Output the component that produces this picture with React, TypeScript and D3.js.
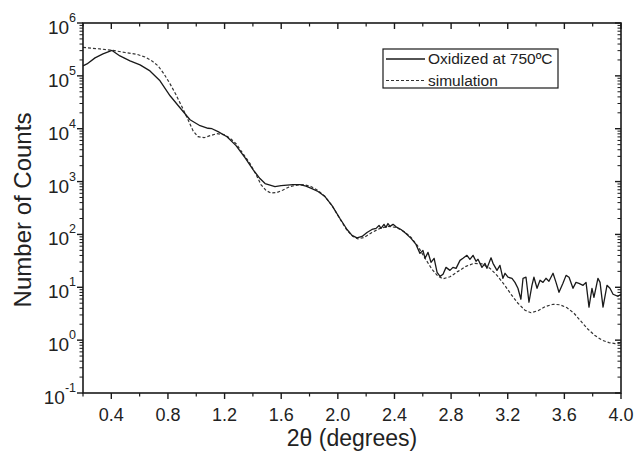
import React from "react";
import * as d3 from "d3";

// Measured XRR curve (Oxidized at 750ºC)
const measuredTheta = [
  0.2, 0.228, 0.285, 0.341, 0.405, 0.461, 0.532, 0.603, 0.673, 0.744,
  0.815, 0.885, 0.956, 1.027, 1.083, 1.111, 1.154, 1.217, 1.281, 1.344,
  1.401, 1.45, 1.486, 1.521, 1.556, 1.599, 1.641, 1.683, 1.733, 1.775,
  1.817, 1.86, 1.909, 1.959, 2.015, 2.065, 2.1, 2.135, 2.171, 2.206,
  2.241, 2.27, 2.291, 2.305, 2.326, 2.34, 2.354, 2.368, 2.39, 2.411,
  2.446, 2.481, 2.517, 2.552, 2.58, 2.601, 2.616, 2.637, 2.658, 2.68,
  2.701, 2.722, 2.743, 2.764, 2.792, 2.813, 2.835, 2.863, 2.884, 2.912,
  2.933, 2.955, 2.976, 2.99, 3.018, 3.039, 3.053, 3.082, 3.096, 3.124,
  3.145, 3.166, 3.181, 3.202, 3.23, 3.251, 3.272, 3.293, 3.308, 3.329,
  3.35, 3.371, 3.385, 3.407, 3.428, 3.449, 3.47, 3.491, 3.52, 3.541,
  3.562, 3.59, 3.612, 3.633, 3.661, 3.682, 3.703, 3.732, 3.753, 3.774,
  3.795, 3.809, 3.837, 3.852, 3.873, 3.901, 3.922, 3.944, 3.979, 4.0,
];
const measuredCounts = [
  1.55e5, 1.68e5, 2.19e5, 2.6e5, 3.03e5, 2.38e5, 1.92e5, 1.61e5, 1.24e5, 8.05e4,
  4.2e4, 2.49e4, 1.48e4, 1.14e4, 1.02e4, 1.0e4, 8.8e3, 7.06e3, 4.78e3, 2.84e3,
  1.68e3, 1.14e3, 916, 859, 806, 841, 859, 877, 877, 822,
  738, 648, 521, 352, 200, 124, 95.7, 85.9, 91.6, 109,
  124, 130, 148, 130, 155, 136, 161, 142, 155, 139,
  124, 104, 84.1, 64.8, 43.8, 49.9, 35.3, 45.8, 29.6, 35.3,
  19.2, 16.1, 17.6, 23.8, 20.9, 23.8, 22.8, 32.3, 35.3, 40.2,
  33.8, 40.2, 31.0, 33.8, 23.8, 28.4, 22.8, 36.1, 28.4, 20.9,
  26.0, 14.8, 18.4, 15.5, 14.8, 12.4, 9.57, 5.94, 14.8, 15.5,
  5.21, 10.9, 15.5, 9.57, 13.6, 12.4, 14.8, 13.0, 18.4, 12.4,
  8.05, 11.9, 16.8, 15.5, 9.57, 12.4, 11.9, 10.9, 12.4, 4.2,
  9.57, 6.47, 14.8, 12.4, 4.2, 10.9, 9.57, 7.38, 6.76, 7.38,
];

// Simulated curve
const simTheta = [
  0.2, 0.32, 0.412, 0.497, 0.581, 0.638, 0.687, 0.73, 0.772, 0.815,
  0.857, 0.899, 0.942, 0.977, 1.012, 1.055, 1.097, 1.146, 1.196, 1.238,
  1.281, 1.33, 1.38, 1.422, 1.457, 1.493, 1.528, 1.57, 1.613, 1.662,
  1.712, 1.761, 1.81, 1.86, 1.909, 1.959, 2.015, 2.065, 2.107, 2.142,
  2.185, 2.241, 2.298, 2.354, 2.411, 2.467, 2.517, 2.566, 2.616, 2.665,
  2.708, 2.743, 2.792, 2.849, 2.905, 2.962, 3.018, 3.075, 3.124, 3.174,
  3.223, 3.272, 3.322, 3.364, 3.414, 3.463, 3.52, 3.569, 3.619, 3.668,
  3.717, 3.767, 3.816, 3.866, 3.915, 3.958, 4.0,
];
const simCounts = [
  3.45e5, 3.23e5, 3.03e5, 2.77e5, 2.55e5, 2.28e5, 1.92e5, 1.55e5, 1.09e5, 7.06e4,
  4.39e4, 2.6e4, 1.48e4, 9.16e3, 7.06e3, 6.76e3, 7.38e3, 8.05e3, 7.71e3, 6.62e3,
  5.21e3, 3.38e3, 2.19e3, 1.36e3, 877, 676, 607, 620, 692, 806,
  859, 877, 806, 676, 521, 352, 196, 119, 91.6, 82.2,
  87.7, 109, 130, 142, 136, 114, 87.7, 59.4, 35.3, 21.9,
  16.1, 14.5, 15.8, 20.0, 24.9, 28.4, 27.8, 22.8, 16.8, 11.4,
  7.38, 4.99, 3.68, 3.3, 3.6, 4.29, 4.77, 4.67, 4.1, 3.23,
  2.28, 1.61, 1.22, 1.0, 0.897, 0.859, 0.877,
];

const xMajorTicks = [0.4, 0.8, 1.2, 1.6, 2.0, 2.4, 2.8, 3.2, 3.6, 4.0];
const xTickLabels = ["0.4", "0.8", "1.2", "1.6", "2.0", "2.4", "2.8", "3.2", "3.6", "4.0"];
const xMinorTicks = [0.2, 0.6, 1.0, 1.4, 1.8, 2.2, 2.6, 3.0, 3.4, 3.8];
const yExponents = [-1, 0, 1, 2, 3, 4, 5, 6];
const legendLabels = ["Oxidized at 750ºC", "simulation"];
const xTitle = "2θ (degrees)";
const yTitle = "Number of Counts";

const FONT = "'Liberation Sans', Arial, sans-serif";
const INK = "#1a1a1a";

export default function App() {
  const W = 640;
  const H = 455;
  const L = 83, R = 621, T = 23, B = 393;
  const x = d3.scaleLinear().domain([0.2, 4.0]).range([L, R]);
  const y = d3.scaleLog().domain([0.1, 1e6]).range([B, T]);

  const measured: [number, number][] = measuredTheta.map((t, i) => [t, measuredCounts[i]]);
  const sim: [number, number][] = simTheta.map((t, i) => [t, simCounts[i]]);
  const line = d3
    .line<[number, number]>()
    .x((d) => x(d[0]))
    .y((d) => y(d[1]));

  const yMinor: number[] = [];
  for (let e = -1; e < 6; e++) {
    for (let k = 2; k <= 9; k++) yMinor.push(k * Math.pow(10, e));
  }

  const major = 6;
  const minor = 3.5;

  return (
    <svg
      width={W}
      height={H}
      style={{ position: "absolute", left: 0, top: 0, background: "#fff" }}
      fontFamily={FONT}
    >
      <rect x={0} y={0} width={W} height={H} fill="#fff" />
      {/* curves */}
      <path d={line(sim) || ""} fill="none" stroke="#333" strokeWidth={1.2} strokeDasharray="3,2" />
      <path d={line(measured) || ""} fill="none" stroke={INK} strokeWidth={1.3} strokeLinejoin="round" />

      {/* frame */}
      <rect x={L} y={T} width={R - L} height={B - T} fill="none" stroke={INK} strokeWidth={1.6} />

      {/* x ticks bottom (outward) and top (inward) */}
      {xMajorTicks.map((v, i) => (
        <g key={"xm" + i}>
          <line x1={x(v)} x2={x(v)} y1={B} y2={B + major} stroke={INK} strokeWidth={1.4} />
          <line x1={x(v)} x2={x(v)} y1={T} y2={T + major} stroke={INK} strokeWidth={1.4} />
          <text x={x(v)} y={421} textAnchor="middle" fontSize={18} fill="#222">
            {xTickLabels[i]}
          </text>
        </g>
      ))}
      {xMinorTicks.map((v, i) => (
        <g key={"xn" + i}>
          <line x1={x(v)} x2={x(v)} y1={B} y2={B + minor} stroke={INK} strokeWidth={1.2} />
          <line x1={x(v)} x2={x(v)} y1={T} y2={T + minor} stroke={INK} strokeWidth={1.2} />
        </g>
      ))}

      {/* y ticks left (outward) and right (inward) */}
      {yExponents.map((e) => {
        const v = Math.pow(10, e);
        const py = y(v);
        return (
          <g key={"ym" + e}>
            <line x1={L - major} x2={L} y1={py} y2={py} stroke={INK} strokeWidth={1.4} />
            <line x1={R - major} x2={R} y1={py} y2={py} stroke={INK} strokeWidth={1.4} />
            <text x={76} y={py + 11} textAnchor="end" fontSize={19} fill="#222">
              10
              <tspan dy={-12} fontSize={12.5}>
                {String(e)}
              </tspan>
            </text>
          </g>
        );
      })}
      {yMinor.map((v, i) => (
        <g key={"yn" + i}>
          <line x1={L - minor} x2={L} y1={y(v)} y2={y(v)} stroke={INK} strokeWidth={1} />
          <line x1={R - minor} x2={R} y1={y(v)} y2={y(v)} stroke={INK} strokeWidth={1} />
        </g>
      ))}

      {/* axis titles */}
      <text x={(L + R) / 2} y={446} textAnchor="middle" fontSize={23} fill="#222">
        {xTitle}
      </text>
      <text
        transform={`translate(31, ${(T + B) / 2 + 2}) rotate(-90)`}
        textAnchor="middle"
        fontSize={24}
        fill="#222"
      >
        {yTitle}
      </text>

      {/* legend */}
      <rect x={383} y={49} width={175} height={39} fill="#fff" stroke={INK} strokeWidth={1.2} />
      <line x1={386} x2={425} y1={59} y2={59} stroke={INK} strokeWidth={1.3} />
      <text x={428} y={64} fontSize={15.5} fill="#222">
        {legendLabels[0]}
      </text>
      <line x1={386} x2={425} y1={80.5} y2={80.5} stroke="#333" strokeWidth={1.2} strokeDasharray="3,2" />
      <text x={428} y={85.5} fontSize={15.5} fill="#222">
        {legendLabels[1]}
      </text>
    </svg>
  );
}
